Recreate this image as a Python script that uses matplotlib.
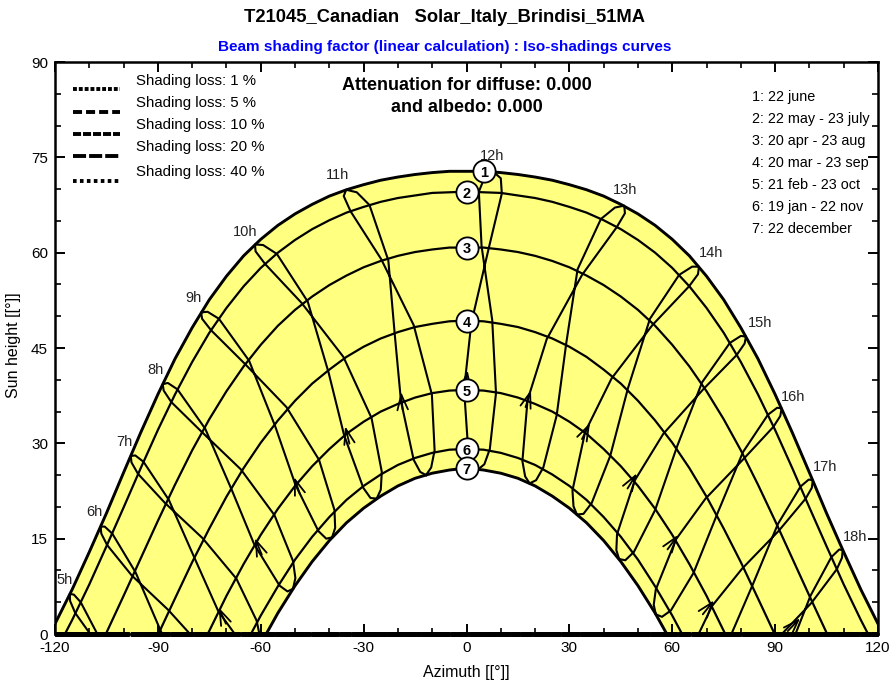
import numpy as np
import matplotlib
matplotlib.use("Agg")
import matplotlib.pyplot as plt
from matplotlib.lines import Line2D

plt.rcParams['font.family'] = ['Liberation Sans', 'DejaVu Sans']
plt.rcParams['lines.scale_dashes'] = False
plt.rcParams['axes.unicode_minus'] = False

# ---------------------------------------------------------------- data
TITLE = "T21045_Canadian   Solar_Italy_Brindisi_51MA"
SUBTITLE = "Beam shading factor (linear calculation) : Iso-shadings curves"

# Sun paths of the 7 reference days: elevation [deg] for azimuth 0, 5, 10 ... (afternoon half,
# the morning half is the mirror image), plus the sunrise / sunset azimuth.
AZ_STEP = 5
DAY_ELEV = [
    [72.8, 72.8, 72.6, 72.3, 71.9, 71.4, 70.7, 69.9, 68.9, 67.6, 66.1, 64.3, 62.1,
     59.5, 56.3, 52.6, 48.2, 43.3, 37.7, 31.7, 25.4, 19.0, 12.9, 7.0, 1.6],
    [69.6, 69.5, 69.4, 69.0, 68.6, 68.0, 67.2, 66.3, 65.1, 63.7, 62.0, 60.0, 57.6,
     54.7, 51.3, 47.4, 42.8, 37.7, 32.1, 26.1, 19.9, 13.8, 7.8, 2.2],
    [60.8, 60.8, 60.5, 60.1, 59.5, 58.7, 57.7, 56.4, 54.9, 53.1, 51.0, 48.5, 45.5,
     42.1, 38.2, 33.8, 28.9, 23.5, 17.8, 11.9, 6.0, 0.2],
    [49.3, 49.2, 48.8, 48.3, 47.5, 46.5, 45.2, 43.6, 41.6, 39.4, 36.7, 33.6, 30.1,
     26.1, 21.6, 16.6, 11.3, 5.6],
    [38.4, 38.3, 37.9, 37.2, 36.2, 35.0, 33.4, 31.5, 29.1, 26.4, 23.3, 19.7, 15.6,
     11.0, 6.0, 0.5],
    [29.1, 29.0, 28.5, 27.7, 26.6, 25.1, 23.3, 21.1, 18.4, 15.3, 11.7, 7.5, 2.9],
    [26.1, 25.8, 25.3, 24.5, 23.3, 21.7, 19.8, 17.5, 14.7, 11.4, 7.6, 3.3],
]
SUNSET_AZ = [121.63, 117.11, 105.20, 89.86, 75.46, 62.87, 58.41]
DAY_NAMES = ["1: 22 june", "2: 22 may - 23 july", "3: 20 apr - 23 aug",
             "4: 20 mar - 23 sep", "5: 21 feb - 23 oct", "6: 19 jan - 22 nov",
             "7: 22 december"]
DAY_MARK_AZ = [5, 0, 0, 0, 0, 0, 0]

# Hour lines (legal time): sun position on the days of the year below, in calendar order
DAY_OF_YEAR = [356, 5, 19, 52, 79, 110, 142, 157, 173, 188, 204, 235, 266, 296, 326, 341]
HOURS = [5, 6, 7, 8, 9, 10, 11, 12, 13, 14, 15, 16, 17, 18]
HOUR_AZ = [
    [-78.6, -69.8, -60.6, -50.6, -39.2, -26.2, -11.8, 3.4, 18.4, 32.2, 44.5, 55.2, 64.8, 73.8],
    [-80.2, -71.3, -62.2, -52.2, -40.9, -28.0, -13.5, 1.8, 17.1, 31.2, 43.7, 54.6, 64.4, 73.4],
    [-82.9, -73.9, -64.6, -54.5, -43.2, -30.1, -15.4, 0.5, 16.3, 30.9, 43.9, 55.2, 65.2, 74.4],
    [-91.7, -82.1, -72.4, -61.9, -49.9, -35.7, -19.1, -0.7, 17.8, 34.6, 49.1, 61.1, 71.6, 81.4],
    [-98.9, -89.1, -79.1, -68.4, -55.8, -40.2, -20.9, 1.4, 23.4, 42.3, 57.4, 69.7, 80.4, 90.2],
    [-106.2, -96.5, -86.8, -76.2, -63.4, -46.3, -22.8, 6.4, 33.7, 54.2, 69.2, 80.9, 91.0, 100.6],
    [-112.5, -103.3, -94.2, -84.3, -72.2, -55.3, -28.3, 10.3, 43.8, 64.9, 78.8, 89.5, 98.9, 108.0],
    [-114.5, -105.5, -96.6, -87.1, -75.5, -59.3, -32.0, 10.0, 46.2, 67.5, 81.1, 91.5, 100.7, 109.5],
    [-115.7, -106.7, -97.9, -88.6, -77.4, -61.7, -35.1, 7.9, 46.0, 67.8, 81.5, 91.9, 101.0, 109.7],
    [-115.6, -106.5, -97.7, -88.3, -77.1, -61.5, -35.8, 5.4, 43.3, 65.8, 80.0, 90.6, 99.8, 108.7],
    [-114.1, -104.8, -95.8, -86.1, -74.5, -58.7, -33.8, 3.6, 39.2, 62.0, 76.8, 87.9, 97.4, 106.4],
    [-107.2, -97.6, -87.9, -77.4, -64.8, -48.1, -24.9, 4.4, 32.4, 53.5, 68.7, 80.6, 90.8, 100.3],
    [-96.8, -87.0, -77.0, -65.8, -52.5, -35.9, -15.4, 7.5, 29.1, 47.1, 61.4, 73.2, 83.5, 93.4],
    [-86.7, -77.1, -67.1, -56.0, -43.0, -27.7, -10.1, 8.6, 26.3, 41.9, 55.0, 66.2, 76.3, 85.9],
    [-79.8, -70.7, -61.2, -50.6, -38.5, -24.7, -9.3, 6.8, 22.4, 36.5, 48.8, 59.6, 69.3, 78.4],
    [-78.4, -69.5, -60.2, -49.9, -38.3, -25.0, -10.3, 5.2, 20.3, 34.1, 46.3, 57.0, 66.5, 75.5],
]
HOUR_EL = [
    [-23.5, -12.6, -2.3, 7.1, 15.2, 21.3, 25.0, 25.9, 23.7, 18.8, 11.8, 3.1, -6.8, -17.4],
    [-24.3, -13.3, -2.8, 6.7, 15.0, 21.4, 25.5, 26.7, 24.8, 20.1, 13.2, 4.6, -5.2, -15.8],
    [-24.0, -12.9, -2.2, 7.6, 16.2, 23.0, 27.4, 28.9, 27.2, 22.6, 15.7, 7.0, -2.8, -13.5],
    [-18.8, -7.4, 3.6, 14.1, 23.5, 31.3, 36.6, 38.5, 36.8, 31.8, 24.2, 14.9, 4.4, -6.6],
    [-11.0, 0.4, 11.7, 22.6, 32.7, 41.1, 47.0, 48.9, 46.4, 40.2, 31.5, 21.3, 10.3, -1.0],
    [-1.5, 9.7, 21.1, 32.3, 43.0, 52.3, 58.8, 60.5, 56.5, 48.6, 38.6, 27.6, 16.2, 4.9],
    [5.0, 15.8, 27.1, 38.5, 49.6, 59.8, 67.5, 69.3, 64.0, 54.7, 43.9, 32.6, 21.3, 10.2],
    [6.2, 16.9, 28.1, 39.5, 50.7, 61.2, 69.5, 71.7, 66.2, 56.6, 45.7, 34.3, 23.0, 12.0],
    [6.3, 16.9, 28.0, 39.3, 50.6, 61.3, 69.9, 72.7, 67.4, 57.8, 46.8, 35.5, 24.2, 13.2],
    [5.2, 15.8, 27.0, 38.3, 49.6, 60.2, 68.9, 72.0, 67.1, 57.8, 46.9, 35.6, 24.3, 13.3],
    [3.3, 14.0, 25.2, 36.5, 47.8, 58.2, 66.5, 69.6, 65.3, 56.5, 45.8, 34.5, 23.2, 12.1],
    [-1.9, 9.2, 20.6, 31.9, 42.6, 52.1, 59.0, 61.0, 57.4, 49.6, 39.6, 28.6, 17.3, 6.0],
    [-7.5, 3.8, 15.1, 25.9, 35.7, 43.6, 48.6, 49.4, 45.8, 38.7, 29.5, 19.0, 7.8, -3.5],
    [-13.3, -2.1, 8.7, 18.7, 27.4, 34.0, 37.7, 37.9, 34.4, 28.0, 19.5, 9.6, -1.2, -12.4],
    [-19.3, -8.3, 2.1, 11.5, 19.5, 25.5, 28.9, 29.1, 26.2, 20.6, 12.9, 3.7, -6.6, -17.5],
    [-21.8, -10.8, -0.5, 8.8, 16.7, 22.7, 26.2, 26.7, 24.2, 18.9, 11.6, 2.7, -7.4, -18.1],
]
HOUR_LABEL_AZ = [-117.1, -108.6, -99.9, -90.6, -79.5, -64.6, -37.5, 7.4, 46.2, 71.3, 85.6, 95.2, 104.5, 113.3]
HOUR_LABEL_EL = [8.5, 19.2, 30.2, 41.5, 52.9, 63.2, 72.2, 75.2, 69.9, 59.9, 48.9, 37.3, 26.3, 15.3]

# direction arrows on the rising (winter -> summer) branch of the hour lines
ARROW_HOURS = [7, 8, 9, 10, 11, 12, 13, 14, 15, 16, 17, 18]
ARROW_AZ = [-72.3, -61.7, -50.3, -35.4, -19.1, 0.3, 18.8, 36.0, 49.7, 61.7, 72.2, 97.3]
ARROW_EL = [4.2, 15.1, 24.7, 32.7, 38.1, 41.5, 38.4, 33.2, 25.3, 15.6, 5.3, 2.5]

# iso-shading curves (all lying on the horizon)
LOSS_LEVELS = [1, 5, 10, 20, 40]
LOSS_DASHES = [(2.8, 1.4), (6.5, 2.9), (5.8, 1.4), (9.4, 2.2), (2.6, 2.4)]
ISO_AZ = [-120, 120]
ISO_EL = [0, 0]

YELLOW = "#ffff80"

# ---------------------------------------------------------------- figure
W, H = 890, 680
fig = plt.figure(figsize=(W / 100, H / 100), dpi=100)
ax = fig.add_axes([55 / W, 1 - 634 / H, 823 / W, 572 / H])
ax.set_xlim(-120, 120)
ax.set_ylim(0, 90)


def day_path(k):
    el = np.array(DAY_ELEV[k])
    az = np.arange(len(el)) * AZ_STEP
    azf = np.concatenate([[-SUNSET_AZ[k]], -az[::-1], az[1:], [SUNSET_AZ[k]]])
    elf = np.concatenate([[0.0], el[::-1], el[1:], [0.0]])
    return azf, elf


# yellow band between the summer and winter solstice paths
az_s, el_s = day_path(0)
az_w, el_w = day_path(6)
ax.fill(np.concatenate([az_s, az_w[::-1]]), np.concatenate([el_s, el_w[::-1]]),
        color=YELLOW, lw=0, zorder=1)

for k in range(7):
    a, e = day_path(k)
    ax.plot(a, e, color="k", lw=2.1 if k in (0, 6) else 1.6, zorder=3,
            solid_joinstyle="round")

haz = np.array(HOUR_AZ)
hel = np.array(HOUR_EL)
for j, h in enumerate(HOURS):
    a = np.append(haz[:, j], haz[0, j])
    e = np.append(hel[:, j], hel[0, j])
    ax.plot(a, e, color="k", lw=1.5, zorder=2, solid_joinstyle="round")

for j, h in enumerate(HOURS):
    ax.text(HOUR_LABEL_AZ[j], HOUR_LABEL_EL[j], "%dh" % h, ha="center", va="center",
            fontsize=10.5, color="#222222", zorder=6)

# arrows
to_disp = ax.transData
from_disp = ax.transData.inverted()
rise_end = DAY_OF_YEAR.index(173)
for h, ta, te in zip(ARROW_HOURS, ARROW_AZ, ARROW_EL):
    j = HOURS.index(h)
    pts = to_disp.transform(np.column_stack([haz[:rise_end + 1, j], hel[:rise_end + 1, j]]))
    tip = to_disp.transform((ta, te))
    best, bi = None, 0
    for i in range(len(pts) - 1):
        p, q = pts[i], pts[i + 1]
        d = q - p
        t = np.clip(np.dot(tip - p, d) / np.dot(d, d), 0, 1)
        dist = np.linalg.norm(p + t * d - tip)
        if best is None or dist < best:
            best, bi = dist, i
    d = pts[bi + 1] - pts[bi]
    d = d / np.linalg.norm(d)
    tail = from_disp.transform(tip - d * 18)
    ax.annotate("", xy=(ta, te), xytext=tail,
                arrowprops=dict(arrowstyle="->,head_length=1.1,head_width=0.38",
                                color="k", lw=1.3, shrinkA=0, shrinkB=0), zorder=4)

# numbered markers on the day paths
for k in range(7):
    mz = DAY_MARK_AZ[k]
    me = DAY_ELEV[k][mz // AZ_STEP]
    ax.plot(mz, me, "o", ms=16, mfc="white", mec="k", mew=1.3, zorder=7, clip_on=False)
    ax.text(mz, me - 0.3, str(k + 1), ha="center", va="center", fontsize=10.5,
            fontweight="bold", zorder=8)

# iso-shading curves on the horizon
for n, (lvl, ds) in enumerate(zip(LOSS_LEVELS, LOSS_DASHES)):
    ax.plot(ISO_AZ, ISO_EL, color="k", lw=3.4, linestyle=(n * 1.3, ds), zorder=9,
            clip_on=False, solid_capstyle="butt")

# axes styling
ax.set_xticks(range(-120, 121, 30))
ax.set_xticks(range(-120, 121, 10), minor=True)
ax.set_yticks(range(0, 91, 15))
ax.set_yticks(range(0, 91, 5), minor=True)
ax.tick_params(which="both", direction="in", top=True, right=True, labelsize=11,
               colors="k")
ax.tick_params(which="major", length=7.5, width=1.4, pad=5)
ax.tick_params(which="minor", length=4, width=1.2)
for s in ax.spines.values():
    s.set_linewidth(1.8)

# legend of iso-shading levels
for i, (lvl, ds) in enumerate(zip(LOSS_LEVELS, LOSS_DASHES)):
    yl = [89.3, 111.7, 134.0, 155.7, 180.7][i]
    fig.add_artist(Line2D([73 / W, 120 / W], [1 - yl / H, 1 - yl / H], color="k",
                          lw=2.8, linestyle=(0, ds), transform=fig.transFigure))
    fig.text(136 / W, 1 - (yl - 8.5) / H, "Shading loss: %d %%" % lvl, ha="left",
             va="center", fontsize=10.8)

# legend of days
for i, name in enumerate(DAY_NAMES):
    fig.text(752 / W, 1 - (97 + 22 * i) / H, name, ha="left", va="center", fontsize=10.4)

fig.text(466.5 / W, 1 - 86 / H, "Attenuation for diffuse: 0.000", ha="center",
         va="center", fontsize=13, fontweight="bold")
fig.text(466.5 / W, 1 - 108 / H, "and albedo: 0.000", ha="center", va="center",
         fontsize=13, fontweight="bold")

fig.text(445 / W, 1 - 18 / H, TITLE, ha="center", va="center", fontsize=13.2,
         fontweight="bold")
fig.text(445 / W, 1 - 47 / H, SUBTITLE, ha="center", va="center", fontsize=11,
         fontweight="bold", color="#0000ff")

fig.text(466.5 / W, 1 - 673 / H, "Azimuth [[°]]", ha="center", va="center", fontsize=11.5)
fig.text(14 / W, 1 - 345 / H, "Sun height [[°]]", ha="center", va="center",
         fontsize=11.5, rotation=90)

fig.savefig("out.png", dpi=100)
